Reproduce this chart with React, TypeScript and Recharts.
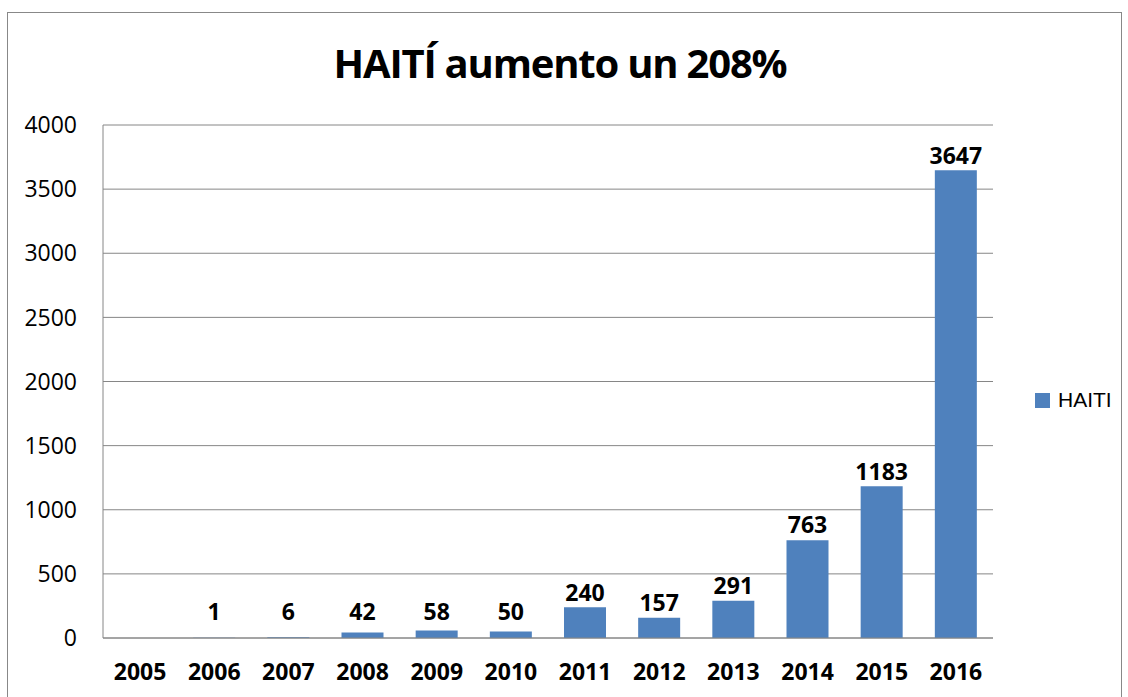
import React from 'react';
import { BarChart, Bar, XAxis, YAxis, CartesianGrid, Legend, LabelList, Customized } from 'recharts';

const years = ['2005', '2006', '2007', '2008', '2009', '2010', '2011', '2012', '2013', '2014', '2015', '2016'];
const haiti: (number | null)[] = [null, 1, 6, 42, 58, 50, 240, 157, 291, 763, 1183, 3647];
const yTicks = [0, 500, 1000, 1500, 2000, 2500, 3000, 3500, 4000];
const seriesName = 'HAITI';
const title = 'HAITÍ aumento un 208%';

const data = years.map((y, i) => ({ year: y, HAITI: haiti[i] }));

const FONT = '"Open Sans", sans-serif';
const BLUE = '#4F81BD';
const GRAY = '#868686';

const renderLabel = (props: any) => {
  const { x, y, width, height, value } = props;
  if (value == null) return null;
  const base = Number(y) + Number(height);
  const cy = Math.min(Number(y) - 15, base - 26);
  return (
    <text x={Number(x) + Number(width) / 2} y={cy} dy="0.36em" textAnchor="middle" fontWeight="bold" fontSize={23} fontFamily={FONT} fill="#000">
      {value}
    </text>
  );
};

const Title = () => (
  <text x={560} y={78} textAnchor="middle" fontWeight="bold" fontSize={40} letterSpacing={-1.2} fontFamily={FONT} fill="#000">
    {title}
  </text>
);

const LegendContent = () => (
  <div style={{ display: 'flex', alignItems: 'center', fontFamily: '"Liberation Sans", Arial, sans-serif', fontSize: 21, lineHeight: '22px', color: '#000' }}>
    <span style={{ display: 'inline-block', width: 15, height: 15, background: BLUE, marginRight: 8 }} />
    <span>{seriesName}</span>
  </div>
);

export default function App() {
  return (
    <div style={{ position: 'absolute', left: 0, top: 0, width: 1128, height: 697, overflow: 'hidden', background: '#fff' }}>
      <div style={{ position: 'absolute', left: 7, top: 12, width: 1113, height: 700, border: '1px solid #888' }} />
      <div style={{ position: 'absolute', left: 0, top: 0 }}>
        <BarChart width={1128} height={697} data={data} margin={{ top: 125, right: 42, bottom: 0, left: 0 }}>
          <CartesianGrid vertical={false} stroke={GRAY} strokeWidth={1} />
          <XAxis
            dataKey="year"
            height={59}
            axisLine={{ stroke: GRAY }}
            tickLine={false}
            tickSize={0}
            tickMargin={26}
            interval={0}
            tick={{ fontFamily: FONT, fontSize: 23, fontWeight: 'bold', fill: '#000' }}
          />
          <YAxis
            width={103}
            domain={[0, 4000]}
            ticks={yTicks}
            axisLine={{ stroke: GRAY }}
            tickLine={false}
            tickSize={0}
            tickMargin={26}
            tick={{ fontFamily: FONT, fontSize: 23, fill: '#000' }}
          />
          <Legend
            layout="vertical"
            align="right"
            verticalAlign="middle"
            content={<LegendContent />}
            wrapperStyle={{ width: 93, left: 1035, top: 389, right: 'auto' }}
          />
          <Bar dataKey="HAITI" name={seriesName} fill={BLUE} barSize={42} isAnimationActive={false}>
            <LabelList dataKey="HAITI" content={renderLabel} />
          </Bar>
          <Customized component={<Title />} />
        </BarChart>
      </div>
    </div>
  );
}
